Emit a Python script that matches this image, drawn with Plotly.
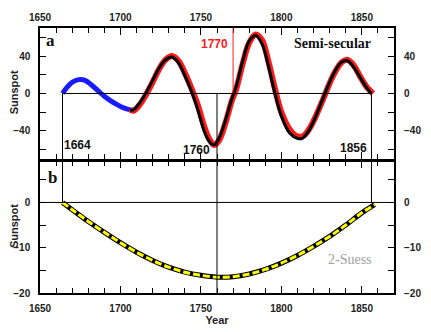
import plotly.graph_objects as go

# ---- data ----
blue_years = [1664, 1667, 1670, 1674, 1678, 1682, 1686, 1690, 1694, 1698, 1702, 1706, 1708]
blue_vals = [0, 7, 12, 14.8, 14, 9, 3, -3, -8, -12, -15.5, -17.5, -18]

red_years = [1706, 1708, 1712, 1716, 1720, 1724, 1728, 1732, 1736, 1740, 1744, 1748, 1752, 1755, 1758,
             1761, 1765, 1769, 1772, 1776, 1780, 1784, 1788, 1792, 1796, 1800, 1805, 1810, 1814, 1818,
             1822, 1826, 1830, 1834, 1838, 1841, 1845, 1849, 1853, 1857]
red_vals = [-17, -18.5, -12, -1, 12, 26, 36, 40, 35, 22, 6, -12, -35, -48, -55,
            -51, -33, -9, 5, 32, 54, 63, 57, 34, 5, -20, -38, -46, -45, -36,
            -22, -6, 11, 25, 34, 36, 30, 18, 7, 0]

black_years = [1706, 1708, 1712, 1716, 1720, 1724, 1728, 1732, 1736, 1740, 1744, 1748, 1752, 1755, 1758,
               1761, 1765, 1769, 1772, 1776, 1780, 1784, 1788, 1792, 1796, 1800, 1805, 1810, 1813, 1817,
               1821, 1825, 1829, 1833, 1837, 1841, 1845, 1849, 1853, 1856]
black_vals = [-18, -17.5, -10, 1, 14, 27, 36, 39, 33, 19, 3, -17, -40, -51, -55,
              -49, -30, -7, 8, 35, 56, 62, 53, 29, 0, -24, -42, -48, -48, -40,
              -26, -9, 8, 23, 33, 35, 28, 17, 6, 0]

suess_years = [1664, 1670, 1680, 1690, 1700, 1710, 1720, 1730, 1740, 1750, 1760, 1770, 1780,
               1790, 1800, 1810, 1820, 1830, 1840, 1850, 1858]
suess_vals = [0, -1.6, -4.2, -6.6, -8.9, -11.0, -12.8, -14.3, -15.4, -16.1, -16.5, -16.4, -15.8,
              -14.8, -13.4, -11.7, -9.7, -7.5, -5.0, -2.3, -0.5]

x_ticks = [1650, 1700, 1750, 1800, 1850]
marker_years = [1664, 1760, 1856]
event_year = 1770

# ---- figure ----
fig = go.Figure()

fig.add_trace(go.Scatter(x=blue_years, y=blue_vals, mode="lines", line=dict(color="#1a1aff", width=5, shape="spline"),
                         xaxis="x", yaxis="y", showlegend=False))
fig.add_trace(go.Scatter(x=red_years, y=red_vals, mode="lines", line=dict(color="#ff1a1a", width=6, shape="spline"),
                         xaxis="x", yaxis="y", showlegend=False))
fig.add_trace(go.Scatter(x=black_years, y=black_vals, mode="lines", line=dict(color="black", width=3, shape="spline"),
                         xaxis="x", yaxis="y", showlegend=False))

fig.add_trace(go.Scatter(x=suess_years, y=suess_vals, mode="lines", line=dict(color="black", width=5, shape="spline"),
                         xaxis="x2", yaxis="y2", showlegend=False))
fig.add_trace(go.Scatter(x=suess_years, y=suess_vals, mode="lines",
                         line=dict(color="#ffff00", width=3, shape="spline", dash="7px,3px"),
                         xaxis="x2", yaxis="y2", showlegend=False))

shapes = []
# panel a reference lines
shapes.append(dict(type="line", xref="x", yref="y", x0=marker_years[0], x1=marker_years[2], y0=0, y1=0,
                   line=dict(color="black", width=1)))
for yr in marker_years:
    shapes.append(dict(type="line", xref="x", yref="y", x0=yr, x1=yr, y0=0, y1=-70,
                       line=dict(color="black", width=1)))
shapes.append(dict(type="line", xref="x", yref="y", x0=event_year, x1=event_year, y0=0, y1=70,
                   line=dict(color="#ff1a1a", width=1)))
# panel b reference lines
shapes.append(dict(type="line", xref="x2", yref="y2", x0=1650, x1=1867, y0=0, y1=0,
                   line=dict(color="black", width=1)))
shapes.append(dict(type="line", xref="x2", yref="y2", x0=marker_years[0], x1=marker_years[0], y0=0, y1=9,
                   line=dict(color="black", width=1)))
shapes.append(dict(type="line", xref="x2", yref="y2", x0=marker_years[2], x1=marker_years[2], y0=0, y1=9,
                   line=dict(color="black", width=1)))
shapes.append(dict(type="line", xref="x2", yref="y2", x0=marker_years[1], x1=marker_years[1], y0=-20, y1=9,
                   line=dict(color="black", width=1)))

sans = "Liberation Sans"
serif = "Liberation Serif"
annotations = [
    dict(x=1673.6, y=-55, xref="x", yref="y", text="1664", showarrow=False,
         font=dict(family=sans, size=12, color="#111", weight="bold")),
    dict(x=1747.5, y=-61, xref="x", yref="y", text="1760", showarrow=False,
         font=dict(family=sans, size=12, color="#111", weight="bold")),
    dict(x=1845, y=-58, xref="x", yref="y", text="1856", showarrow=False,
         font=dict(family=sans, size=12, color="#111", weight="bold")),
    dict(x=1758.7, y=53, xref="x", yref="y", text="1770", showarrow=False,
         font=dict(family=sans, size=12, color="#ff1a1a", weight="bold")),
    dict(x=1832, y=53, xref="x", yref="y", text="Semi-secular", showarrow=False,
         font=dict(family=serif, size=14, color="#111", weight="bold")),
    dict(x=1656.5, y=57, xref="x", yref="y", text="a", showarrow=False,
         font=dict(family=serif, size=17, color="#111", weight="bold")),
    dict(x=1658, y=5.4, xref="x2", yref="y2", text="b", showarrow=False,
         font=dict(family=serif, size=17, color="#111", weight="bold")),
    dict(x=1842.5, y=-12.6, xref="x2", yref="y2", text="2-Suess", showarrow=False,
         font=dict(family=serif, size=14, color="#a0a0a0")),
    dict(x=-0.073, y=0.758, xref="paper", yref="paper", text="Sunspot", textangle=-90, showarrow=False,
         xanchor="center", yanchor="middle",
         font=dict(family=sans, size=11, color="#222", weight="bold")),
    dict(x=-0.073, y=0.253, xref="paper", yref="paper", text="Sunspot", textangle=-90, showarrow=False,
         xanchor="center", yanchor="middle",
         font=dict(family=sans, size=11, color="#222", weight="bold")),
]

tickfont = dict(family=sans, size=10, color="#222", weight="bold")
xcommon = dict(range=[1650, 1870], tickvals=x_ticks, ticks="inside", ticklen=7, tickwidth=1, tickcolor="black",
               minor=dict(dtick=10, tick0=1650, ticks="inside", ticklen=5, tickcolor="black"),
               showline=True, linecolor="black", linewidth=1.5, mirror="ticks", showgrid=False, zeroline=False,
               tickfont=tickfont, automargin=False)
ycommon = dict(ticks="inside", ticklen=6, tickwidth=1, tickcolor="black", showline=True, linecolor="black",
               linewidth=1.5, mirror="ticks", showgrid=False, zeroline=False, tickfont=tickfont,
               ticklabelstandoff=6, automargin=False)

fig.update_layout(
    width=431, height=332,
    margin=dict(l=40, r=37, t=28, b=39),
    paper_bgcolor="white", plot_bgcolor="white",
    shapes=shapes, annotations=annotations,
    xaxis=dict(**xcommon, side="top", anchor="y", domain=[0, 1], ticklabelstandoff=1),
    xaxis2=dict(**xcommon, side="bottom", anchor="y2", domain=[0, 1], ticklabelstandoff=5,
                title=dict(text="Year", font=dict(family=sans, size=11, color="#222", weight="bold"), standoff=0)),
    yaxis=dict(**ycommon, domain=[0.506, 1], range=[-70, 70], tickvals=[-40, 0, 40],
               minor=dict(tickvals=[-60, -20, 20, 60], ticks="inside", ticklen=6, tickcolor="black"),
               anchor="x"),
    yaxis2=dict(**ycommon, domain=[0, 0.4955], range=[-20, 9], tickvals=[-20, -10, 0],
                minor=dict(tickvals=[-15, -5, 5], ticks="inside", ticklen=6, tickcolor="black"),
                anchor="x2"),
    yaxis3=dict(overlaying="y", side="right", range=[-70, 70], tickvals=[-40, 0, 40], ticks="",
                showline=False, showgrid=False, zeroline=False, tickfont=tickfont, anchor="x",
                ticklabelstandoff=9, automargin=False),
    yaxis4=dict(overlaying="y2", side="right", range=[-20, 9], tickvals=[-20, -10, 0], ticks="",
                showline=False, showgrid=False, zeroline=False, tickfont=tickfont, anchor="x2",
                ticklabelstandoff=9, automargin=False),
)
# dummy traces to activate right axes
fig.add_trace(go.Scatter(x=[None], y=[None], xaxis="x", yaxis="y3", showlegend=False, hoverinfo="skip"))
fig.add_trace(go.Scatter(x=[None], y=[None], xaxis="x2", yaxis="y4", showlegend=False, hoverinfo="skip"))

fig.write_html("out.html")
